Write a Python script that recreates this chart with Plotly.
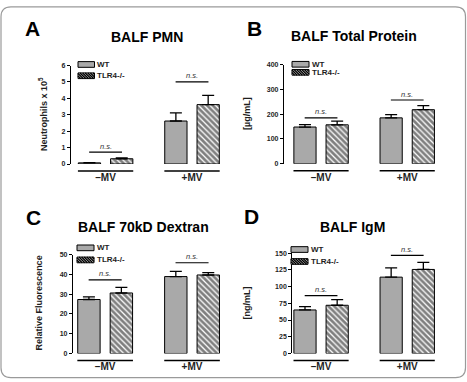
import plotly.graph_objects as go

W, H = 467, 382

groups = ["\u2013MV", "+MV"]
series_names = ["WT", "TLR4-/-"]

panel_letters = ["A", "B", "C", "D"]
panel_titles = ["BALF PMN", "BALF Total Protein", "BALF 70kD Dextran", "BALF IgM"]
y_titles = ["Neutrophils x 10<sup>5</sup>", "[\u00b5g/mL]", "Relative Fluorescence", "[ng/mL]"]

# values per panel: [ -MV, +MV ]
wt_vals = [[0.07, 2.62], [148, 185], [27.3, 38.9], [65, 114]]
wt_err = [[0.02, 0.50], [10, 13], [1.3, 2.6], [5, 14]]
ko_vals = [[0.32, 3.62], [157, 218], [30.6, 39.7], [72, 125.5]]
ko_err = [[0.05, 0.56], [15, 16], [2.8, 1.2], [8.5, 10.5]]
ns_level = [[0.72, 5.0], [185, 257], [37.2, 45.9], [86.5, 146.6]]

y_max = [6, 400, 50, 150]
y_step = [1, 100, 10, 25]

# layout (pixels)
ax_x = [(71, 226.6), (284, 441.7), (73, 226.8), (292.3, 441.7)]
ax_y = [(62.7, 163), (61.7, 162.7), (255.3, 356), (253.7, 356)]
x_ranges = [[-0.4, 1.4], [-0.43, 1.4], [-0.37, 1.4], [-0.334, 1.4]]
letter_pos = [(32, 25), (254, 25), (33, 217), (252, 216)]
title_pos = [(147, 34), (354, 33), (143, 227), (352, 227)]
ytitle_pos = [(43, 112), (247, 112), (39, 305), (247, 305)]
# legend: box left, box width, WT box top, TLR4 box top
legend_pos = [(78, 16.5, 58.7, 70.2), (292, 17, 58.5, 66.7), (77, 17, 245.5, 257.8), (291, 17, 247.2, 259.4)]
box_h = 5.8

WT_COLOR = "#a9a9a9"
TXT = "#1e1e1e"
FONT = "Liberation Sans, Arial, sans-serif"


def px(x):
    return x / W


def py(y):
    return 1 - y / H


fig = go.Figure()
shapes = []
annotations = []

for i in range(4):
    sfx = "" if i == 0 else str(i + 1)
    xa, ya = "x" + sfx, "y" + sfx
    fig.add_trace(go.Bar(
        x=groups, y=wt_vals[i], name=series_names[0], xaxis=xa, yaxis=ya,
        marker=dict(color=WT_COLOR, line=dict(color="black", width=1)),
        error_y=dict(type="data", array=wt_err[i], arrayminus=[0, 0], symmetric=False,
                     color="black", thickness=1.3, width=6),
        showlegend=False, offsetgroup="wt"))
    fig.add_trace(go.Bar(
        x=groups, y=ko_vals[i], name=series_names[1], xaxis=xa, yaxis=ya,
        marker=dict(color="white", line=dict(color="black", width=1),
                    pattern=dict(shape="\\", fgcolor="black", bgcolor="white", size=4, solidity=0.68)),
        error_y=dict(type="data", array=ko_err[i], arrayminus=[0, 0], symmetric=False,
                     color="black", thickness=1.3, width=6),
        showlegend=False, offsetgroup="ko"))

    fig.layout["xaxis" + sfx] = dict(
        domain=[px(ax_x[i][0]), px(ax_x[i][1])], anchor=ya, range=x_ranges[i],
        type="category", showline=False, showgrid=False, zeroline=False, ticks="",
        tickfont=dict(family=FONT, size=10, color=TXT, weight="bold"),
        ticklabelstandoff=6, fixedrange=True)
    fig.layout["yaxis" + sfx] = dict(
        domain=[py(ax_y[i][1]), py(ax_y[i][0])], anchor=xa, range=[0, y_max[i]],
        tick0=0, dtick=y_step[i], showline=True, linecolor="black", linewidth=1.2,
        ticks="outside", ticklen=3, tickwidth=1.2, tickcolor="black",
        showgrid=False, zeroline=False,
        tickfont=dict(family=FONT, size=7, color=TXT, weight="bold"), fixedrange=True)

    # group underlines
    for g in range(2):
        shapes.append(dict(type="line", xref=xa, yref=ya + " domain", x0=g - 0.32, x1=g + 0.32,
                           y0=-0.07, y1=-0.07, line=dict(color="black", width=1.5)))
        # n.s. brackets
        shapes.append(dict(type="line", xref=xa, yref=ya, x0=g - 0.19, x1=g + 0.19,
                           y0=ns_level[i][g], y1=ns_level[i][g], line=dict(color="black", width=1.2)))
        annotations.append(dict(xref=xa, yref=ya, x=g, y=ns_level[i][g], yshift=6, showarrow=False,
                                xanchor="center", yanchor="middle",
                                text="<i>n.s.</i>", font=dict(family=FONT, size=7.5, color="#333")))

    # letters and titles
    lx, ly = letter_pos[i]
    annotations.append(dict(xref="paper", yref="paper", x=px(lx), y=py(ly), showarrow=False,
                            xanchor="center", yanchor="middle",
                            text="<b>%s</b>" % panel_letters[i], font=dict(family=FONT, size=21, color="black")))
    tx, ty = title_pos[i]
    annotations.append(dict(xref="paper", yref="paper", x=px(tx), y=py(ty), showarrow=False,
                            xanchor="center", yanchor="middle",
                            text="<b>%s</b>" % panel_titles[i], font=dict(family=FONT, size=14, color="black")))
    yx, yy = ytitle_pos[i]
    annotations.append(dict(xref="paper", yref="paper", x=px(yx), y=py(yy), showarrow=False, textangle=-90,
                            xanchor="center", yanchor="middle",
                            text="<b>%s</b>" % y_titles[i], font=dict(family=FONT, size=9, color=TXT)))

    # manual legend
    bl, bw, t_wt, t_ko = legend_pos[i]
    shapes.append(dict(type="rect", xref="paper", yref="paper", x0=px(bl), x1=px(bl + bw),
                       y0=py(t_wt + box_h), y1=py(t_wt), fillcolor=WT_COLOR,
                       line=dict(color="black", width=1)))
    shapes.append(dict(type="rect", xref="paper", yref="paper", x0=px(bl), x1=px(bl + bw),
                       y0=py(t_ko + box_h), y1=py(t_ko), fillcolor="white",
                       line=dict(color="black", width=1)))
    # hatch lines inside TLR4 legend box
    path = ""
    t = -box_h
    while t < bw:
        s0 = max(0.0, -t / box_h)
        s1 = min(1.0, (bw - t) / box_h)
        if s1 > s0:
            xa0, ya0 = bl + t + box_h * s0, t_ko + box_h * s0
            xa1, ya1 = bl + t + box_h * s1, t_ko + box_h * s1
            path += "M%.5f,%.5f L%.5f,%.5f " % (px(xa0), py(ya0), px(xa1), py(ya1))
        t += 2.6
    shapes.append(dict(type="path", xref="paper", yref="paper", path=path,
                       line=dict(color="black", width=1.4)))
    for name, top in zip(series_names, [t_wt, t_ko]):
        annotations.append(dict(xref="paper", yref="paper", x=px(bl + bw + 0.5), y=py(top + box_h / 2),
                                xanchor="left", yanchor="middle", showarrow=False, text="<b>%s</b>" % name,
                                font=dict(family=FONT, size=8, color=TXT)))

# rounded frame around the figure
x0, x1, y0, y1, r = 1.0, 465.5, 3.0, 380.5, 10
frame = ("M%f,%f L%f,%f Q%f,%f %f,%f L%f,%f Q%f,%f %f,%f L%f,%f Q%f,%f %f,%f L%f,%f Q%f,%f %f,%f Z" % (
    px(x0 + r), py(y0), px(x1 - r), py(y0), px(x1), py(y0), px(x1), py(y0 + r),
    px(x1), py(y1 - r), px(x1), py(y1), px(x1 - r), py(y1),
    px(x0 + r), py(y1), px(x0), py(y1), px(x0), py(y1 - r),
    px(x0), py(y0 + r), px(x0), py(y0), px(x0 + r), py(y0)))
shapes.append(dict(type="path", xref="paper", yref="paper", path=frame,
                   line=dict(color="#9a9a9a", width=1.2), layer="below"))

fig.update_layout(
    width=W, height=H, margin=dict(l=0, r=0, t=0, b=0),
    paper_bgcolor="white", plot_bgcolor="white",
    barmode="group", bargap=0.253, bargroupgap=0.31,
    shapes=shapes, annotations=annotations, showlegend=False,
    font=dict(family=FONT, color=TXT),
)

fig.write_html("out.html", config={"displayModeBar": False})
